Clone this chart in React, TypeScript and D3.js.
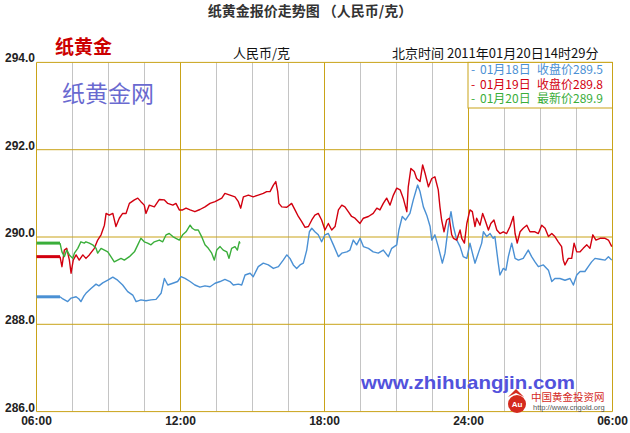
import React from 'react';
import * as d3 from 'd3';

// prices in 元/克, time in hours (6 = 06:00, 30 = next day 06:00)
const priceTicks = [286, 288, 290, 292, 294];
const timeTicks = [6, 12, 18, 24, 30];
const timeLabels = ['06:00', '12:00', '18:00', '24:00', '06:00'];

const legendDays = ['01月18日', '01月19日', '01月20日'];
const legendKinds = ['收盘价289.5', '收盘价289.8', '最新价289.9'];

const blue0118: [number, number][] = [
    [6.0, 288.63], [6.98, 288.63], [7.10, 288.58], [7.30, 288.52], [7.44, 288.60], [7.65, 288.63], [7.77, 288.58],
    [7.85, 288.52], [7.98, 288.65], [8.06, 288.71], [8.27, 288.82], [8.48, 288.92], [8.60, 288.88], [8.76, 288.95],
    [8.97, 289.01], [9.18, 289.08], [9.38, 289.01], [9.59, 288.90], [9.80, 288.75], [10.01, 288.67], [10.15, 288.52],
    [10.35, 288.56], [10.56, 288.54], [10.77, 288.56], [10.98, 288.57], [11.19, 288.71], [11.33, 289.05], [11.47, 288.90],
    [11.68, 288.94], [11.88, 288.98], [12.02, 289.09], [12.19, 289.05], [12.40, 288.98], [12.60, 288.90], [12.81, 288.85],
    [13.02, 288.88], [13.23, 288.86], [13.44, 288.94], [13.65, 288.98], [13.85, 289.03], [14.06, 288.98], [14.20, 288.90],
    [14.41, 288.92], [14.55, 288.90], [14.69, 289.13], [14.90, 289.17], [15.03, 289.09], [15.24, 289.32], [15.45, 289.40],
    [15.66, 289.36], [15.87, 289.28], [16.08, 289.32], [16.28, 289.47], [16.43, 289.59], [16.56, 289.51], [16.70, 289.36],
    [16.84, 289.28], [16.98, 289.36], [17.12, 289.40], [17.26, 289.70], [17.37, 290.12], [17.47, 290.20], [17.60, 290.12],
    [17.74, 290.05], [17.88, 289.89], [18.02, 290.05], [18.16, 290.08], [18.37, 289.82], [18.58, 289.55], [18.72, 289.63],
    [18.93, 289.66], [19.06, 289.70], [19.20, 289.93], [19.34, 289.82], [19.48, 289.97], [19.62, 289.78], [19.83, 289.74],
    [20.03, 289.66], [20.24, 289.63], [20.45, 289.70], [20.66, 289.55], [20.80, 289.74], [21.01, 289.82], [21.10, 290.16],
    [21.24, 290.47], [21.38, 290.39], [21.56, 290.54], [21.70, 290.85], [21.88, 291.19], [21.98, 291.04], [22.12, 290.69],
    [22.26, 290.50], [22.40, 290.24], [22.47, 289.93], [22.60, 290.05], [22.74, 289.78], [22.91, 289.40], [23.02, 289.63],
    [23.16, 290.24], [23.27, 290.58], [23.37, 290.24], [23.51, 289.93], [23.65, 289.78], [23.78, 289.55], [23.93, 289.51],
    [24.06, 289.86], [24.20, 289.55], [24.27, 289.40], [24.41, 289.63], [24.55, 289.86], [24.62, 290.12], [24.76, 290.01],
    [24.90, 290.08], [25.03, 289.97], [25.10, 290.01], [25.24, 289.40], [25.31, 289.13], [25.45, 289.28], [25.56, 289.24],
    [25.66, 289.55], [25.80, 289.86], [25.94, 289.51], [26.08, 289.47], [26.28, 289.51], [26.49, 289.70], [26.63, 289.55],
    [26.77, 289.43], [26.91, 289.32], [27.12, 289.36], [27.33, 289.24], [27.47, 288.98], [27.60, 289.05], [27.81, 289.05],
    [28.02, 289.01], [28.23, 289.05], [28.37, 288.90], [28.51, 289.13], [28.65, 289.21], [28.85, 289.21], [28.99, 289.32],
    [29.13, 289.43], [29.27, 289.51], [29.48, 289.49], [29.69, 289.47], [29.83, 289.55], [29.97, 289.47],
];

const red0119: [number, number][] = [
    [6.0, 289.55], [6.98, 289.55], [7.06, 289.32], [7.16, 289.70], [7.26, 289.74], [7.37, 289.47], [7.44, 289.17],
    [7.53, 289.47], [7.65, 289.59], [7.78, 289.47], [7.93, 289.59], [8.06, 289.51], [8.20, 289.59], [8.41, 289.74],
    [8.55, 289.93], [8.69, 290.05], [8.83, 290.27], [8.90, 290.54], [9.03, 290.50], [9.18, 290.54], [9.31, 290.24],
    [9.45, 290.43], [9.59, 290.54], [9.73, 290.54], [9.87, 290.77], [10.08, 290.85], [10.22, 290.89], [10.35, 290.81],
    [10.49, 290.73], [10.56, 290.54], [10.70, 290.73], [10.91, 290.69], [11.12, 290.86], [11.33, 290.85], [11.47, 290.77],
    [11.68, 290.73], [11.81, 290.77], [11.95, 290.62], [12.09, 290.62], [12.23, 290.66], [12.40, 290.62], [12.60, 290.58],
    [12.81, 290.63], [13.02, 290.69], [13.23, 290.77], [13.44, 290.81], [13.58, 290.85], [13.72, 290.89], [13.85, 291.00],
    [14.06, 290.96], [14.27, 290.92], [14.41, 290.81], [14.51, 290.66], [14.62, 290.92], [14.83, 290.96], [15.03, 290.92],
    [15.24, 290.96], [15.45, 291.00], [15.59, 291.04], [15.73, 291.04], [15.87, 291.19], [15.97, 291.27], [16.05, 291.04],
    [16.10, 290.77], [16.22, 290.69], [16.43, 290.68], [16.63, 290.77], [16.77, 290.62], [16.91, 290.47], [17.05, 290.35],
    [17.19, 290.22], [17.33, 290.24], [17.47, 290.39], [17.60, 290.50], [17.74, 290.54], [17.88, 290.39], [18.02, 290.16],
    [18.16, 290.31], [18.30, 290.16], [18.44, 290.24], [18.58, 290.62], [18.72, 290.73], [18.85, 290.69], [18.99, 290.58],
    [19.13, 290.47], [19.27, 290.43], [19.41, 290.35], [19.48, 290.31], [19.62, 290.43], [19.83, 290.47], [20.03, 290.54],
    [20.18, 290.66], [20.31, 290.62], [20.45, 290.77], [20.59, 290.89], [20.73, 290.73], [20.87, 290.96], [21.01, 291.12],
    [21.15, 291.08], [21.28, 290.89], [21.43, 290.58], [21.49, 291.15], [21.60, 291.57], [21.74, 291.50], [21.84, 291.34],
    [21.98, 291.27], [22.09, 291.65], [22.19, 291.46], [22.33, 291.15], [22.47, 291.34], [22.60, 291.38], [22.74, 291.08],
    [22.81, 290.69], [22.88, 290.39], [22.98, 290.12], [23.09, 290.39], [23.20, 290.43], [23.30, 290.05], [23.37, 289.97],
    [23.51, 289.93], [23.65, 290.16], [23.72, 289.97], [23.83, 289.86], [23.93, 290.31], [24.06, 290.62], [24.16, 290.58],
    [24.27, 290.24], [24.34, 290.43], [24.48, 290.27], [24.59, 290.54], [24.69, 290.39], [24.83, 290.16], [24.93, 290.31],
    [25.06, 290.39], [25.18, 290.16], [25.31, 290.08], [25.45, 290.12], [25.59, 290.08], [25.73, 290.24], [25.87, 290.47],
    [25.94, 290.08], [26.03, 289.86], [26.15, 290.12], [26.28, 290.20], [26.43, 290.27], [26.56, 290.12], [26.77, 290.12],
    [26.91, 290.08], [27.05, 290.27], [27.19, 290.20], [27.33, 290.01], [27.47, 290.08], [27.60, 290.01], [27.74, 289.89],
    [27.88, 289.78], [27.95, 289.47], [28.02, 289.36], [28.16, 289.51], [28.30, 289.51], [28.40, 289.86], [28.51, 289.66],
    [28.65, 289.66], [28.78, 289.74], [28.93, 289.82], [29.06, 289.74], [29.18, 290.05], [29.31, 289.93], [29.48, 289.97],
    [29.69, 289.97], [29.83, 289.93], [29.97, 289.78],
];

const green0120: [number, number][] = [
    [6.0, 289.86], [6.98, 289.86], [7.06, 289.66], [7.16, 289.55], [7.26, 289.70], [7.37, 289.59], [7.51, 289.51],
    [7.58, 289.63], [7.72, 289.74], [7.85, 289.89], [7.99, 289.86], [8.06, 289.89], [8.20, 289.86], [8.34, 289.82],
    [8.48, 289.74], [8.55, 289.63], [8.69, 289.74], [8.83, 289.70], [8.97, 289.66], [9.10, 289.55], [9.24, 289.43],
    [9.38, 289.47], [9.52, 289.51], [9.66, 289.47], [9.87, 289.55], [10.08, 289.66], [10.22, 289.82], [10.35, 289.97],
    [10.49, 289.89], [10.63, 289.86], [10.77, 289.82], [10.91, 289.89], [11.12, 289.93], [11.26, 289.89], [11.40, 290.05],
    [11.53, 290.08], [11.68, 290.01], [11.81, 289.97], [11.95, 289.93], [12.09, 290.05], [12.23, 290.12], [12.40, 290.27],
    [12.49, 290.20], [12.60, 290.16], [12.74, 290.16], [12.88, 290.01], [13.02, 289.82], [13.16, 289.74], [13.30, 289.63],
    [13.41, 289.47], [13.51, 289.70], [13.65, 289.78], [13.78, 289.70], [13.93, 289.66], [14.02, 289.51], [14.13, 289.74],
    [14.27, 289.78], [14.37, 289.70], [14.45, 289.89], [14.48, 289.85],
];

const seriesColors = ['#4a90d4', '#d2000f', '#3aae3a'];

const W = 630;
const H = 433;
const gold = '#c9a318';
const cjk = '"Noto Sans CJK SC", "Noto Sans", sans-serif';
const latin = '"Liberation Sans", Arial, sans-serif';

export default function App() {
    const x = d3.scaleLinear().domain([6, 30]).range([36.5, 612.5]);
    const y = d3.scaleLinear().domain([286, 294]).range([411.6, 62.4]);

    const line = d3.line<[number, number]>()
        .x(d => x(d[0]))
        .y(d => y(d[1]));

    const minorTicks = d3.range(6, 30.01, 1.5).filter(t => !timeTicks.includes(t));
    const series = [blue0118, red0119, green0120];

    return (
        <svg width={W} height={H} style={{ position: 'absolute', left: 0, top: 0, background: '#fff' }}>
            <rect x={0} y={0} width={W} height={H} fill="#fff" />

            {/* header */}
            <text x={310} y={16} textAnchor="middle" fontFamily={cjk} fontSize={14} fontWeight="bold" fill="#333">
                纸黄金报价走势图 （人民币/克）
            </text>
            <text x={55} y={54} fontFamily={cjk} fontSize={19} fontWeight="bold" fill="#cc0000">纸黄金</text>
            <text x={233} y={58} fontFamily={cjk} fontSize={13} fill="#111">人民币/克</text>
            <text x={392} y={58} fontFamily={cjk} fontSize={13} fill="#111" style={{ whiteSpace: 'pre' }}>
                北京时间 2011年01月20日14时29分
            </text>

            {/* grid */}
            {minorTicks.map(t => (
                <line key={'m' + t} x1={x(t)} x2={x(t)} y1={y(294)} y2={y(286)} stroke="#c4c4c4" strokeWidth={1} />
            ))}
            {timeTicks.map(t => (
                <line key={'t' + t} x1={x(t)} x2={x(t)} y1={y(294)} y2={y(286)} stroke={gold} strokeWidth={1} />
            ))}
            {priceTicks.map(v => (
                <line key={'p' + v} x1={x(6)} x2={x(30)} y1={y(v)} y2={y(v)} stroke={gold} strokeWidth={1} />
            ))}

            {/* watermarks */}
            <text x={62} y={102} fontFamily={cjk} fontSize={23} fill="#6a6ad0">纸黄金网</text>
            <text x={361} y={389} fontFamily={latin} fontSize={18.5} fontWeight="bold" fill="#5252dc"
                textLength={214} lengthAdjust="spacingAndGlyphs">www.zhihuangjin.com</text>

            {/* axis labels */}
            {priceTicks.map(v => (
                <text key={'yl' + v} x={35} y={y(v)} textAnchor="end" fontFamily={latin} fontSize={12}
                    fontWeight="bold" fill="#222">{v.toFixed(1)}</text>
            ))}
            {timeTicks.map((t, i) => (
                <text key={'xl' + i} x={x(t)} y={425} textAnchor="middle" fontFamily={latin} fontSize={12}
                    fontWeight="bold" fill="#222">{timeLabels[i]}</text>
            ))}

            {/* legend */}
            <rect x={468} y={y(294)} width={x(30) - 468} height={108 - y(294)} fill="#fff" stroke={gold} />
            {legendDays.map((s, i) => (
                <g key={s} fill={seriesColors[i]} fontFamily={cjk} fontSize={12}>
                    <text x={471} y={74 + i * 14.5}>-</text>
                    <text x={480} y={74 + i * 14.5}>{s}</text>
                    <text x={537} y={74 + i * 14.5}>{legendKinds[i]}</text>
                </g>
            ))}

            {/* price lines */}
            {series.map((d, i) => (
                <g key={'s' + i}>
                    <path d={line(d.slice(0, 2)) || ''} fill="none" stroke={seriesColors[i]} strokeWidth={3} />
                    <path d={line(d.slice(1)) || ''} fill="none" stroke={seriesColors[i]} strokeWidth={1.4}
                        strokeLinejoin="round" />
                </g>
            ))}

            {/* cngold logo */}
            <g>
                <circle cx={517} cy={404} r={9} fill="#d42a1e" />
                <path d="M508,397 L516,389 L524,397 L516,393 Z" fill="#d42a1e" />
                <text x={517} y={407} textAnchor="middle" fontFamily={latin} fontSize={8} fontWeight="bold" fill="#fff">Au</text>
                <text x={531} y={401} fontFamily={cjk} fontSize={10.5} fill="#d42a1e">中国黄金投资网</text>
                <text x={533} y={409.5} fontFamily={latin} fontSize={7.5} fill="#555">http://www.cngold.org</text>
            </g>
        </svg>
    );
}
